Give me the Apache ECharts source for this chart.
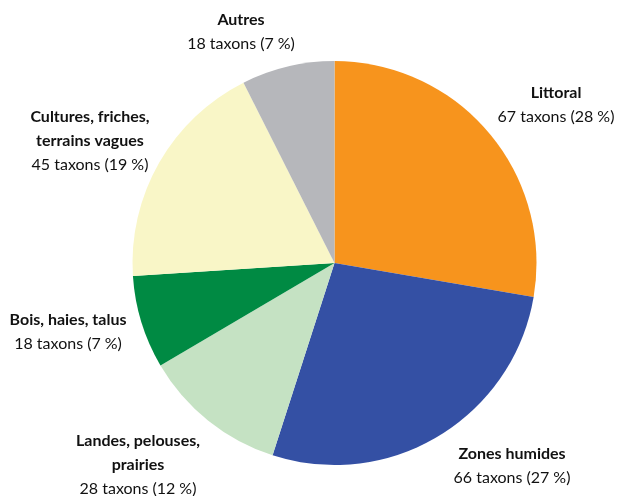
<!DOCTYPE html>
<html><head><meta charset="utf-8">
<script src="https://cdn.jsdelivr.net/npm/echarts@6/dist/echarts.min.js"></script>
<style>html,body{margin:0;padding:0;background:#fff}#c{width:617px;height:496px}</style>
</head><body><div id="c"></div>
<script>
const categories = ['Littoral', 'Zones humides', 'Landes, pelouses,\nprairies', 'Bois, haies, talus', 'Cultures, friches,\nterrains vagues', 'Autres'];
const values = [67, 66, 28, 18, 45, 18];
const percents = ['28', '27', '12', '7', '19', '7'];
const colors = ['#F7941D', '#3450A4', '#C5E2C3', '#008A43', '#F9F6C7', '#B6B7BB'];
const labelPos = [[556, 105], [512, 466], [138, 465], [68, 332], [90, 141], [241, 32]];

const chart = echarts.init(document.getElementById('c'));
chart.setOption({
  animation: false,
  series: [{
    type: 'pie',
    center: [334.5, 263],
    radius: [0, 202],
    startAngle: 90,
    clockwise: true,
    itemStyle: { borderWidth: 0 },
    labelLine: { show: false },
    label: {
      show: true,
      position: 'outside',
      align: 'center',
      verticalAlign: 'middle',
      overflow: 'none',
      fontFamily: 'Lato',
      color: '#111',
      lineHeight: 24,
      fontSize: 16,
      formatter: p => '{b|' + categories[p.dataIndex] + '}\n' + values[p.dataIndex] + ' taxons (' + percents[p.dataIndex] + '\u202F%)',
      rich: {
        b: { fontWeight: 'bold', fontSize: 16, lineHeight: 24, fontFamily: 'Lato', color: '#111', align: 'center' }
      }
    },
    labelLayout: p => ({ x: labelPos[p.dataIndex][0], y: labelPos[p.dataIndex][1], align: 'center', verticalAlign: 'middle' }),
    data: values.map((v, i) => ({ name: categories[i], value: v, itemStyle: { color: colors[i] } }))
  }]
});
</script></body></html>
